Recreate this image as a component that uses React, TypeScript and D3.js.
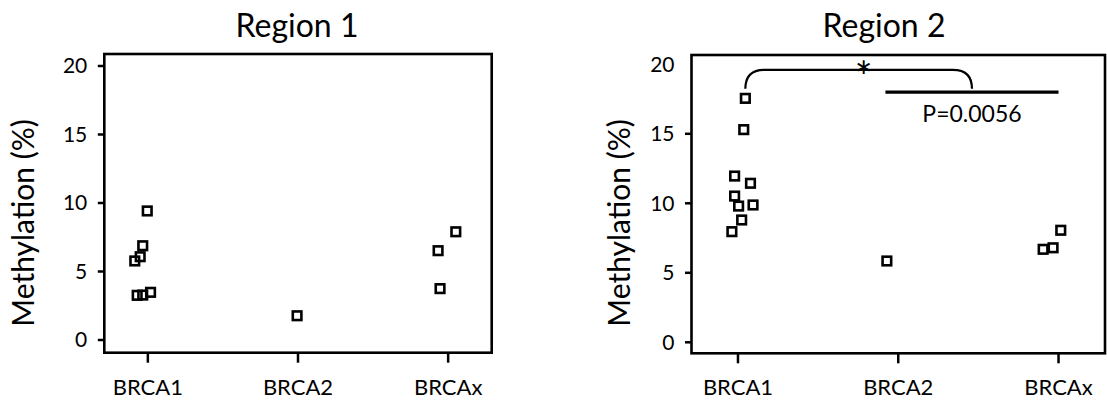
import * as d3 from 'd3';

const categories = ['BRCA1', 'BRCA2', 'BRCAx'];
const yTickValues = [0, 5, 10, 15, 20];

// methylation (%) per sample; jitter is a horizontal offset in category widths
const r1Brca1 = [9.42, 6.88, 6.08, 5.77, 3.26, 3.28, 3.48];
const r1Brca1Jitter = [-0.004, -0.034, -0.051, -0.087, -0.071, -0.034, 0.018];
const r1Brca2 = [1.77];
const r1Brca2Jitter = [-0.006];
const r1Brcax = [6.52, 3.75, 7.9];
const r1BrcaxJitter = [-0.067, -0.054, 0.051];

const r2Brca1 = [17.55, 15.3, 11.96, 11.44, 10.52, 9.8, 9.88, 8.8, 7.96];
const r2Brca1Jitter = [0.046, 0.036, -0.021, 0.078, -0.021, 0.004, 0.094, 0.023, -0.038];
const r2Brca2 = [5.85];
const r2Brca2Jitter = [-0.071];
const r2Brcax = [6.69, 6.8, 8.06];
const r2BrcaxJitter = [-0.096, -0.034, 0.014];

// significance annotation in region 2
const bracketTop = 19.6;
const bracketEnd = 18.3;
const compareLine = 18.0;
const compareFrom = 0.92; // category units
const compareTo = 2.0;
const pLabel = 'P=0.0056';

const FONT = 'Lato, "Open Sans", sans-serif';

type Pt = { cat: number; v: number; dx: number };
const toPts = (cat: number, vals: number[], jit: number[]): Pt[] =>
  vals.map((v, i) => ({ cat, v, dx: jit[i] }));

const region1 = [
  ...toPts(0, r1Brca1, r1Brca1Jitter),
  ...toPts(1, r1Brca2, r1Brca2Jitter),
  ...toPts(2, r1Brcax, r1BrcaxJitter),
];
const region2 = [
  ...toPts(0, r2Brca1, r2Brca1Jitter),
  ...toPts(1, r2Brca2, r2Brca2Jitter),
  ...toPts(2, r2Brcax, r2BrcaxJitter),
];

function Panel({ title, data, left, right, top, bottom, y0, y20, titleX, labelX, tickVals, annotate }: any) {
  const x = d3.scaleLinear().domain([-0.29, 2.29]).range([left, right]);
  const y = d3.scaleLinear().domain([0, 20]).range([y0, y20]);
  const s = 8.6;

  let annotation = null;
  if (annotate) {
    const topPt = data[0];
    const x0 = x(topPt.cat + topPt.dx);
    const lx0 = x(compareFrom);
    const lx1 = x(compareTo);
    const x1 = (lx0 + lx1) / 2;
    const yt = y(bracketTop);
    const ye = y(bracketEnd);
    const r = 19;
    const path = `M${x0},${ye} V${yt + r} Q${x0},${yt} ${x0 + r},${yt} H${x1 - r} Q${x1},${yt} ${x1},${yt + r} V${ye}`;
    annotation = (
      <g>
        <path d={path} fill="none" stroke="#000" strokeWidth={2.2} />
        <text x={(x0 + x1) / 2 + 5} y={yt + 22} textAnchor="middle" fontSize={42}>*</text>
        <line x1={lx0} x2={lx1} y1={y(compareLine)} y2={y(compareLine)} stroke="#000" strokeWidth={3.3} />
        <text x={x1} y={y(compareLine) + 29.5} textAnchor="middle" fontSize={23}>{pLabel}</text>
      </g>
    );
  }

  return (
    <g fontFamily={FONT} fill="#000">
      <text x={titleX} y={37} textAnchor="middle" fontSize={32}>{title}</text>
      <text transform={`translate(${labelX},223) rotate(-90)`} textAnchor="middle" dominantBaseline="central" fontSize={30}>
        Methylation (%)
      </text>
      {yTickValues.map((t) => (
        <g key={t}>
          {tickVals.includes(t) && (
            <line x1={left - 6.5} x2={left} y1={y(t)} y2={y(t)} stroke="#000" strokeWidth={2.5} />
          )}
          <text x={left - 17} y={y(t)} dy="0.35em" textAnchor="end" fontSize={21}>{t}</text>
        </g>
      ))}
      {categories.map((c, i) => (
        <g key={c}>
          <line x1={x(i)} x2={x(i)} y1={bottom} y2={bottom + 10} stroke="#000" strokeWidth={2.5} />
          <text x={x(i)} y={395} textAnchor="middle" fontSize={22}>{c}</text>
        </g>
      ))}
      <rect x={left} y={top} width={right - left} height={bottom - top} fill="none" stroke="#000" strokeWidth={2.6} />
      {data.map((p: Pt, i: number) => (
        <rect key={i} x={x(p.cat + p.dx) - s / 2} y={y(p.v) - s / 2} width={s} height={s}
          fill="none" stroke="#000" strokeWidth={2.6} />
      ))}
      {annotation}
    </g>
  );
}

export default function App() {
  return (
    <svg width={1107} height={400} style={{ position: 'absolute', left: 0, top: 0, background: '#fff' }}>
      <Panel title="Region 1" data={region1} left={104.3} right={491.7} top={54} bottom={352.7}
        y0={340} y20={66} titleX={297} labelX={22} tickVals={[0, 5, 10, 15, 20]} />
      <Panel title="Region 2" data={region2} left={691.5} right={1105} top={55} bottom={353.3}
        y0={342.3} y20={64.3} titleX={884} labelX={618} tickVals={[0, 5, 10, 15]} annotate />
    </svg>
  );
}
